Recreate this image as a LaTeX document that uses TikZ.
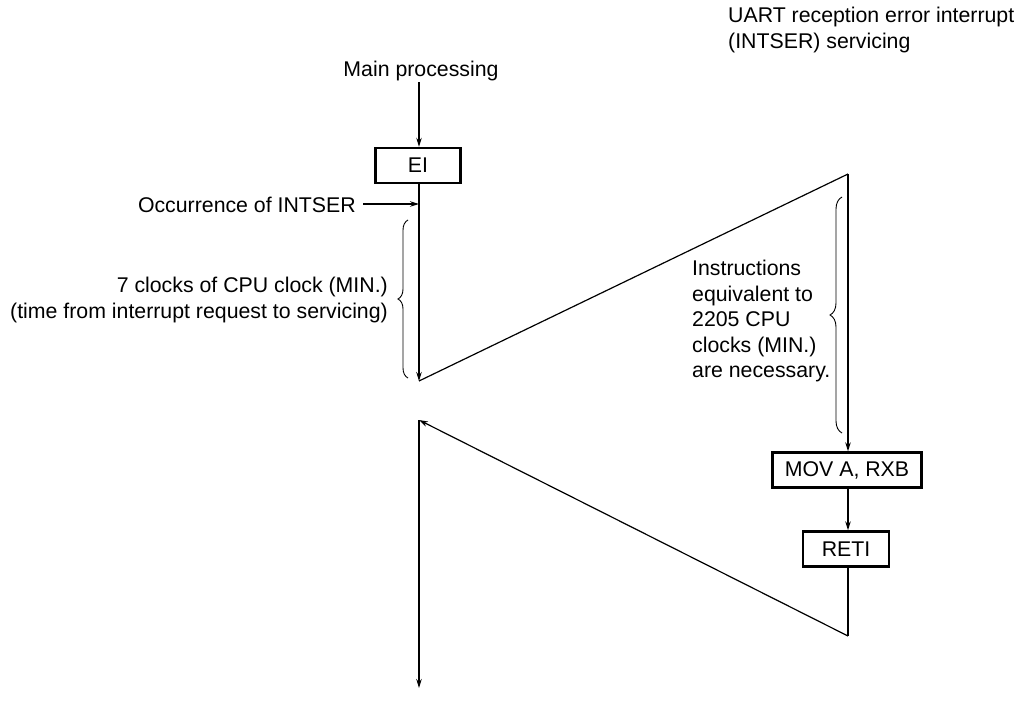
\documentclass[tikz,border=0pt]{standalone}
\usepackage{fontspec}
\setmainfont{Liberation Sans}
\usetikzlibrary{arrows.meta,decorations.pathreplacing}
\begin{document}
\begin{tikzpicture}[x=1pt,y=-1pt,
  font=\fontsize{21.3}{25.5}\selectfont,
  line/.style={line width=1.2pt},
  arr/.style={line, -{Stealth[length=9pt,width=5.5pt]}},
  instr/.style={draw, line width=2.4pt, inner sep=0pt, minimum height=35pt},
  txt/.style={inner sep=0pt},
  brc/.style={line width=0.9pt, decorate, decoration={brace, amplitude=10pt, raise=0pt}}]
\useasboundingbox (0,0) rectangle (1016,704);
% nodes
\node[txt, anchor=base] (main) at (421,76) {Main processing};
\coordinate (mtop) at (419,82);
\node[instr, minimum width=85pt] (ei) at (418,165.5) {EI};
\node[txt, anchor=east] (occ) at (356,205) {Occurrence of INTSER};
\coordinate (intser) at (419,204);
\coordinate (a1) at (419,381);
\coordinate (t1) at (848,174);
\node[instr, minimum width=149pt] (mov) at (847,470) {MOV A, RXB};
\node[instr, minimum width=86pt] (reti) at (846,549) {RETI};
\coordinate (b1) at (848,636);
\coordinate (a2) at (419,420);
\coordinate (endp) at (419,688);
\node[txt, anchor=west, align=left] (uart) at (728,30) {UART reception error interrupt\\(INTSER) servicing};
\node[txt, anchor=east, align=right] (seven) at (388,300) {7 clocks of CPU clock (MIN.)\\(time from interrupt request to servicing)};
\node[txt, anchor=west, align=left] (instrtxt) at (692,321) {Instructions\\equivalent to\\2205 CPU\\clocks (MIN.)\\are necessary.};
% connectors
\draw[arr] (mtop) -- (ei.north -| mtop);
\draw[arr] (ei.south -| mtop) -- (a1);
\draw[arr] (occ.east) ++(7,-1) -- (intser);
\draw[line] (a1) -- (t1);
\draw[arr] (t1) -- (mov.north -| t1);
\draw[arr] (mov.south -| t1) -- (reti.north -| t1);
\draw[line] (reti.south -| t1) -- (b1);
\draw[arr] (b1) -- (a2);
\draw[arr] (a2) -- (endp);
% braces
\draw[brc] (408,378) -- (408,220);
\draw[brc, decoration={brace, amplitude=12pt}] (842,433) -- (842,197);
\end{tikzpicture}
\end{document}
